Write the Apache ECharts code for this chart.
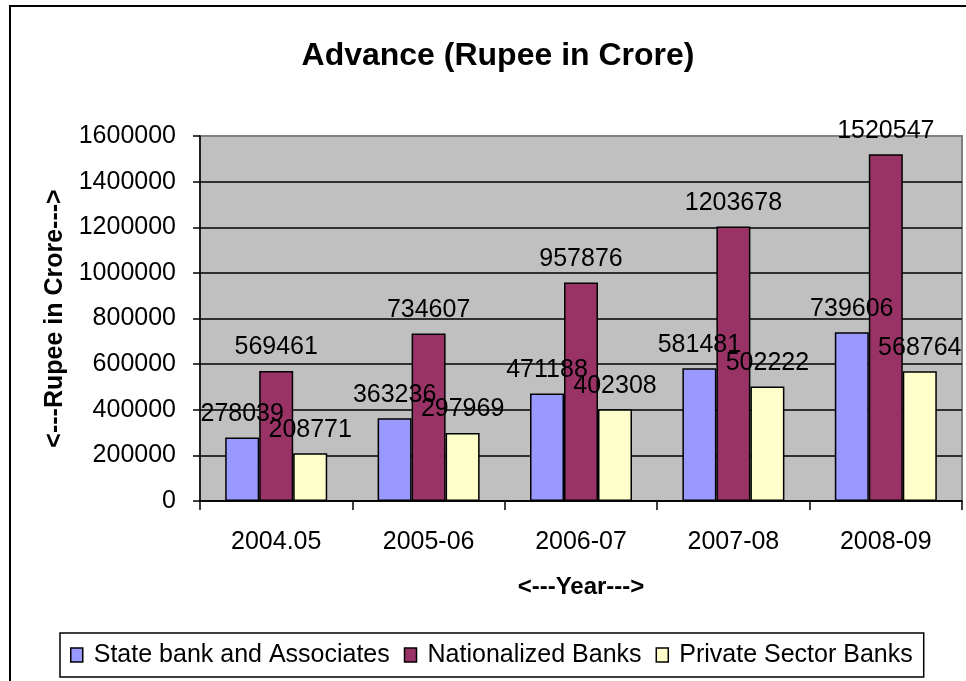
<!DOCTYPE html>
<html>
<head>
<meta charset="utf-8">
<title>Advance (Rupee in Crore)</title>
<script src="https://cdn.jsdelivr.net/npm/echarts@6/dist/echarts.min.js"></script>
<style>
  html, body { margin: 0; padding: 0; background: #fff; }
  #main { width: 966px; height: 681px; }
</style>
</head>
<body>
<div id="main"></div>
<script>
// data
var years = ["2004.05", "2005-06", "2006-07", "2007-08", "2008-09"];
var stateBank = [278039, 363236, 471188, 581481, 739606];
var nationalized = [569461, 734607, 957876, 1203678, 1520547];
var privateSector = [208771, 297969, 402308, 502222, 568764];
var seriesNames = ["State bank and Associates", "Nationalized Banks", "Private Sector Banks"];
var colors = ["#9999FF", "#993366", "#FFFFCC"];

var FONT = "Arial, 'Liberation Sans', sans-serif";

function barSeries(name, data, color) {
  return {
    name: name,
    type: "bar",
    data: data,
    barWidth: 34,
    barGap: "0%",
    itemStyle: { color: color, borderColor: "#000", borderWidth: 1.5 },
    label: {
      show: true,
      position: "top",
      distance: 11,
      color: "#000",
      fontFamily: FONT,
      fontSize: 25
    },
    emphasis: { disabled: true }
  };
}

var chart = echarts.init(document.getElementById("main"));
var option = {
  animation: false,
  color: colors,
  title: {
    text: "Advance (Rupee in Crore)",
    left: 493,
    top: 35,
    textAlign: "center",
    textStyle: { fontFamily: FONT, fontSize: 32, fontWeight: "bold", color: "#000" }
  },
  graphic: [{
    type: "rect",
    shape: { x: 10, y: 6, width: 1000, height: 720 },
    style: { fill: null, stroke: "#000", lineWidth: 2 },
    silent: true
  }],
  legend: {
    data: seriesNames,
    left: 60,
    top: 633,
    padding: [8, 11, 8, 10],
    itemGap: 14,
    itemWidth: 12,
    itemHeight: 14,
    icon: "rect",
    borderColor: "#000",
    borderWidth: 1.5,
    itemStyle: { borderColor: "#000", borderWidth: 1.5 },
    textStyle: { fontFamily: FONT, fontSize: 25, color: "#000", lineHeight: 28, padding: [0, 0, 0, 6] },
    selectedMode: false
  },
  grid: {
    left: 200,
    right: 4,
    top: 136,
    bottom: 180,
    show: true,
    backgroundColor: "#C0C0C0",
    borderColor: "#808080",
    borderWidth: 2
  },
  xAxis: {
    type: "category",
    data: years,
    name: "<---Year--->",
    nameLocation: "middle",
    nameGap: 74,
    nameTextStyle: { fontFamily: FONT, fontSize: 24, fontWeight: "bold", color: "#000" },
    axisLine: { lineStyle: { color: "#000", width: 1.5 } },
    axisTick: { show: true, length: 9, lineStyle: { color: "#000", width: 1.5 } },
    axisLabel: { margin: 29, fontFamily: FONT, fontSize: 25, color: "#000" },
    splitLine: { show: false }
  },
  yAxis: {
    type: "value",
    min: 0,
    max: 1600000,
    interval: 200000,
    name: "<---Rupee in Crore--->",
    nameLocation: "middle",
    nameGap: 131,
    nameTextStyle: { fontFamily: FONT, fontSize: 25, fontWeight: "bold", color: "#000" },
    axisLine: { show: true, lineStyle: { color: "#000", width: 1.5 } },
    axisTick: { show: true, length: 7, lineStyle: { color: "#000", width: 1.5 } },
    axisLabel: {
      margin: 24, fontFamily: FONT, fontSize: 25, color: "#000",
      formatter: function (v) { return String(v); }
    },
    splitLine: { show: true, showMaxLine: false, lineStyle: { color: "#000", width: 1.5 } }
  },
  series: [
    barSeries(seriesNames[0], stateBank, colors[0]),
    barSeries(seriesNames[1], nationalized, colors[1]),
    barSeries(seriesNames[2], privateSector, colors[2])
  ]
};
chart.setOption(option);
</script>
</body>
</html>
